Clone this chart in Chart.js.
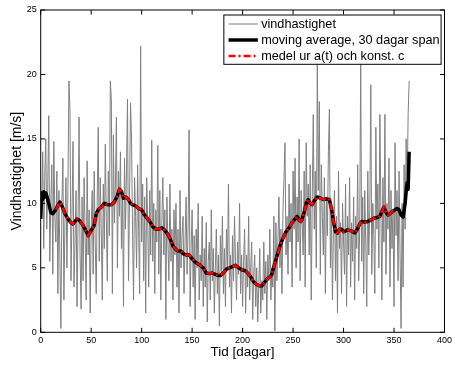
<!DOCTYPE html>
<html><head><meta charset="utf-8">
<script src="https://cdn.jsdelivr.net/npm/chart.js@4/dist/chart.umd.min.js"></script>
<style>html,body{margin:0;padding:0;background:#fff;}#wrap{width:455px;height:367px;}</style>
</head><body><div id="wrap"><canvas id="c" width="455" height="367"></canvas></div>
<script>
// Daily wind speed (day 1 .. 365), m/s
const firstDay = 1;
const windSpeed = [
 9.5,14.0,6.5,12.0,15.0,8.0,11.5,16.8,5.5,10.0,
 13.0,4.5,14.8,9.0,7.0,12.5,3.0,11.0,6.0,0.3,
 10.0,13.5,2.5,8.5,12.0,5.0,11.5,19.5,17.2,4.0,
 9.0,14.8,3.5,7.0,11.0,2.0,8.5,16.7,6.0,1.8,
 10.5,4.0,12.0,7.5,2.5,13.3,6.0,9.5,1.5,8.0,
 11.0,4.5,12.5,7.0,3.0,10.5,15.9,5.5,12.0,8.0,
 2.5,11.5,6.5,14.6,9.0,4.0,12.5,7.5,19.5,18.0,
 3.0,15.3,8.5,11.5,16.7,5.0,12.5,9.0,14.0,6.5,
 11.0,2.0,13.5,8.0,12.5,18.1,4.0,10.5,17.8,15.0,
 7.5,2.5,12.0,9.0,5.0,13.0,8.0,3.0,22.2,7.0,
 11.5,4.0,10.5,1.5,12.0,8.5,3.5,11.0,6.0,14.9,
 5.5,10.0,3.0,9.5,7.0,14.5,4.5,11.0,2.5,8.5,
 12.0,6.0,9.5,1.0,10.5,7.0,4.0,11.5,5.5,8.0,
 2.5,9.5,6.0,10.0,3.5,8.0,1.5,11.0,5.0,7.5,
 9.0,3.0,7.0,10.5,4.5,8.0,15.7,2.0,6.5,9.5,
 3.5,7.5,1.0,8.0,5.0,10.0,2.5,6.0,4.0,9.0,
 2.0,6.5,3.5,8.5,0.8,5.5,7.0,2.5,9.5,4.0,
 6.5,1.5,5.0,8.0,3.0,6.0,0.5,7.5,4.5,9.0,
 3.0,6.5,2.0,8.0,5.0,11.5,3.5,6.0,1.5,7.5,
 4.0,9.0,5.5,2.5,7.0,4.5,10.0,3.0,6.0,2.0,
 5.5,8.0,1.5,6.0,3.5,9.0,2.5,5.0,7.0,1.0,
 4.5,6.0,2.0,5.0,0.8,3.5,6.5,1.5,4.0,2.5,
 7.0,3.0,5.5,1.0,6.0,4.0,8.0,2.5,5.0,3.5,
 9.0,0.1,8.5,4.0,7.0,10.5,5.0,8.0,3.0,9.5,
 12.0,14.7,6.0,9.0,4.5,11.5,7.0,10.0,3.5,12.5,
 8.0,13.5,5.0,10.5,7.0,15.0,4.0,11.0,8.5,6.0,
 12.5,3.5,14.7,9.0,11.5,6.0,13.0,2.5,10.5,16.9,
 8.0,12.5,5.0,21.0,11.0,17.9,4.5,13.0,9.0,6.0,
 12.0,3.0,10.5,7.5,14.0,17.3,5.0,9.5,2.5,8.0,
 11.0,4.0,9.0,1.5,12.5,6.5,8.5,3.0,10.0,7.0,
 4.5,11.5,2.0,9.0,6.0,12.0,3.5,8.5,5.5,10.5,
 2.5,9.0,6.5,13.0,4.0,8.0,20.9,5.5,10.5,3.0,
 11.0,7.0,2.0,12.5,6.0,9.5,19.2,4.5,10.0,7.5,
 3.0,15.9,8.0,11.5,5.0,16.9,9.5,2.5,12.0,7.0,
 16.9,4.5,10.0,8.0,13.5,3.5,11.0,6.5,9.5,2.0,
 14.7,7.5,11.0,4.0,12.5,6.0,0.3,10.0,3.5,13.0,
 8.0,15.0,11.0,17.0,19.5
];

// Moving average, 30-day span
const maDays = [0,1,2,3,4,5,6,8,10,12,14,16,19,21,24,27,30,32,34,36,38,41,44,47,50,53,55,57,60,63,66,70,73,76,78,80,82,84,87,89,91,94,97,100,102,105,108,111,114,117,120,123,126,129,131,134,137,139,141,144,147,150,153,156,158,161,164,167,170,173,176,178,181,184,187,190,193,196,199,202,205,208,211,214,217,219,222,225,227,229,231,234,237,240,243,246,249,252,254,256,258,261,263,265,267,269,271,274,277,280,283,286,288,290,292,294,296,298,300,302,304,306,308,311,313,316,318,321,324,327,330,333,336,338,340,342,344,346,349,351,353,355,357,359,361,362,363,364,365];
const maValues = [8.8,10.8,10.3,10.9,10.5,10.8,10.6,10.0,9.3,9.2,9.4,9.7,10.1,9.8,9.2,8.8,8.5,8.4,8.6,8.8,8.7,8.4,8.0,7.5,7.9,8.3,9.2,9.5,9.7,10.0,9.9,9.9,10.1,10.6,11.1,10.9,10.4,10.5,10.3,10.0,9.9,9.8,9.6,9.5,9.2,8.9,8.6,8.2,8.0,8.0,8.1,7.9,7.6,7.1,6.7,6.4,6.3,6.3,6.1,6.0,6.0,5.7,5.45,5.3,5.2,5.0,4.6,4.55,4.6,4.5,4.4,4.4,4.6,4.9,5.0,5.1,5.2,5.0,4.85,4.8,4.6,4.3,3.9,3.7,3.6,3.6,3.9,4.2,4.3,4.5,5.1,5.9,6.7,7.3,7.8,8.1,8.5,8.8,9.0,8.7,8.6,9.3,10.0,10.3,10.0,9.9,10.2,10.5,10.4,10.3,10.35,10.3,9.6,8.6,7.8,7.7,8.0,8.0,7.8,7.85,7.95,7.9,7.85,7.7,7.9,8.4,8.6,8.55,8.6,8.7,8.85,8.9,9.0,9.4,9.7,9.3,9.1,9.2,9.4,9.5,9.6,9.5,9.1,8.95,10.0,10.9,11.6,11.1,14.0];

// Model from a(t) and constant c
const modelDays = [15,16,19,21,24,27,30,32,34,36,38,41,44,47,50,53,55,57,60,63,66,70,73,76,78,80,82,84,87,89,91,94,97,100,102,105,108,111,114,117,120,123,126,129,131,134,137,139,141,144,147,150,153,156,158,161,164,167,170,173,176,178,181,184,187,190,193,196,199,202,205,208,211,214,217,219,222,225,227,229,231,234,237,240,243,246,249,252,254,256,258,261,263,265,267,269,271,274,277,280,283,286,288,290,292,294,296,298,300,302,304,306,308,311,313,316,318,321,324,327,330,333,336,338,340,342,344,346,349,351];
const modelValues = [9.5,9.7,10.1,9.8,9.2,8.8,8.5,8.4,8.6,8.8,8.7,8.4,8.0,7.5,7.9,8.3,9.2,9.5,9.7,10.0,9.9,9.9,10.1,10.6,11.1,10.9,10.4,10.5,10.3,10.0,9.9,9.8,9.6,9.5,9.2,8.9,8.6,8.2,8.0,8.0,8.1,7.9,7.6,7.1,6.7,6.4,6.3,6.3,6.1,6.0,6.0,5.7,5.45,5.3,5.2,5.0,4.6,4.55,4.6,4.5,4.4,4.4,4.6,4.9,5.0,5.1,5.2,5.0,4.85,4.8,4.6,4.3,3.9,3.7,3.6,3.6,3.9,4.2,4.3,4.5,5.1,5.9,6.7,7.3,7.8,8.1,8.5,8.8,9.0,8.7,8.6,9.3,10.0,10.3,10.0,9.9,10.2,10.5,10.4,10.3,10.35,10.3,9.6,8.6,7.8,7.7,8.0,8.0,7.8,7.85,7.95,7.9,7.85,7.7,7.9,8.4,8.6,8.55,8.6,8.7,8.85,8.9,9.0,9.4,9.7,9.3,9.1,9.2,9.4,9.5];

const xTicks = [0,50,100,150,200,250,300,350,400];
const yTicks = [0,5,10,15,20,25];
const seriesLabels = ['vindhastighet','moving average, 30 dagar span','medel ur a(t) och konst. c'];
const xTitle = 'Tid [dagar]';
const yTitle = 'Vindhastighet [m/s]';

const FONT = '"Liberation Sans", Arial, Helvetica, sans-serif';

const frameAndLegend = {
  id: 'frameAndLegend',
  afterDraw(chart) {
    const ctx = chart.ctx, a = chart.chartArea;
    const xs = chart.scales.x, ys = chart.scales.y;
    ctx.save();
    ctx.strokeStyle = '#000';
    ctx.lineWidth = 1;
    ctx.strokeRect(a.left, a.top, a.right - a.left, a.bottom - a.top);
    const tl = 4.5;
    ctx.beginPath();
    xTicks.forEach(v => {
      const p = xs.getPixelForValue(v);
      ctx.moveTo(p, a.bottom); ctx.lineTo(p, a.bottom - tl);
      ctx.moveTo(p, a.top); ctx.lineTo(p, a.top + tl);
    });
    yTicks.forEach(v => {
      const p = ys.getPixelForValue(v);
      ctx.moveTo(a.left, p); ctx.lineTo(a.left + tl, p);
      ctx.moveTo(a.right, p); ctx.lineTo(a.right - tl, p);
    });
    ctx.stroke();

    // legend
    const ds = chart.data.datasets;
    ctx.font = '12.7px ' + FONT;
    let tw = 0;
    ds.forEach(d => { tw = Math.max(tw, ctx.measureText(d.label).width); });
    const right = a.right - 3.4, top = a.top + 5;
    const lineStart = 4.7, lineLen = 29.3, textGap = 3.3;
    const w = lineStart + lineLen + textGap + tw + 1.5;
    const left = right - w;
    const rowH = 16, h = 49.3;
    ctx.fillStyle = '#fff';
    ctx.fillRect(left, top, w, h);
    ctx.strokeStyle = '#000';
    ctx.lineWidth = 1;
    ctx.strokeRect(left, top, w, h);
    ds.forEach((d, i) => {
      const cy = top + 9 + i * rowH;
      ctx.save();
      ctx.strokeStyle = d.borderColor;
      ctx.lineWidth = d.borderWidth;
      ctx.lineCap = 'butt';
      ctx.setLineDash(d.borderDash || []);
      ctx.beginPath();
      ctx.moveTo(left + lineStart, cy);
      ctx.lineTo(left + lineStart + lineLen, cy);
      ctx.stroke();
      ctx.restore();
      ctx.fillStyle = '#000';
      ctx.textBaseline = 'middle';
      ctx.textAlign = 'left';
      ctx.fillText(d.label, left + lineStart + lineLen + textGap, cy + 0.5);
    });
    ctx.restore();
  }
};

new Chart(document.getElementById('c'), {
  type: 'line',
  data: {
    datasets: [
      {
        label: seriesLabels[0],
        data: windSpeed.map((v, i) => ({x: firstDay + i, y: v})),
        borderColor: '#808080', borderWidth: 1, pointRadius: 0, tension: 0, order: 3
      },
      {
        label: seriesLabels[1],
        data: maDays.map((d, i) => ({x: d, y: maValues[i]})),
        borderColor: '#000000', borderWidth: 3.5, pointRadius: 0, tension: 0, order: 2,
        borderJoinStyle: 'round'
      },
      {
        label: seriesLabels[2],
        data: modelDays.map((d, i) => ({x: d, y: modelValues[i]})),
        borderColor: '#ff0000', borderWidth: 2.6, borderDash: [7, 3, 2, 3], pointRadius: 0, tension: 0, order: 1,
        borderCapStyle: 'butt'
      }
    ]
  },
  options: {
    responsive: false,
    animation: false,
    events: [],
    layout: {padding: {left: 0, top: 10, right: 7.3, bottom: 0}},
    plugins: {legend: {display: false}, tooltip: {enabled: false}},
    scales: {
      x: {
        type: 'linear', min: 0, max: 400,
        afterFit: s => { s.height = 34.7; },
        afterBuildTicks: s => { s.ticks = xTicks.map(v => ({value: v})); },
        grid: {display: false, drawTicks: false},
        border: {display: false},
        ticks: {color: '#000', font: {family: FONT, size: 9}, padding: 3, maxRotation: 0, autoSkip: false},
        title: {display: true, text: xTitle, color: '#000', font: {family: FONT, size: 13.5}, padding: {top: 0, bottom: 6.4}}
      },
      y: {
        type: 'linear', min: 0, max: 25,
        afterFit: s => { s.width = 40.7; },
        afterBuildTicks: s => { s.ticks = yTicks.map(v => ({value: v})); },
        grid: {display: false, drawTicks: false},
        border: {display: false},
        ticks: {color: '#000', font: {family: FONT, size: 9}, padding: 4, autoSkip: false},
        title: {display: true, text: yTitle, color: '#000', font: {family: FONT, size: 14}, padding: {top: 8.4, bottom: 0}}
      }
    }
  },
  plugins: [frameAndLegend]
});
</script></body></html>
